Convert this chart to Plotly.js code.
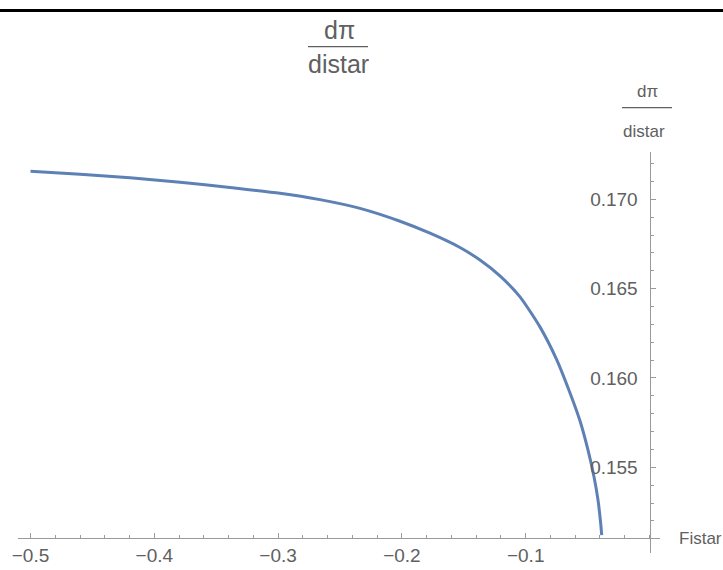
<!DOCTYPE html>
<html>
<head>
<meta charset="utf-8">
<script src="https://cdn.plot.ly/plotly-3.0.1.min.js"></script>
<style>html,body{margin:0;padding:0;background:#fff;}#chart{width:723px;height:570px;}</style>
</head>
<body>
<div id="chart"></div>
<script>
// ---- data ----
const fistar = [-0.5, -0.4600, -0.4196, -0.3792, -0.3389, -0.2985, -0.2662, -0.2338, -0.2015, -0.1773, -0.1531, -0.1369, -0.1208, -0.1046, -0.0885, -0.0750, -0.0642, -0.0561, -0.0497, -0.0448, -0.0416, -0.0397, -0.0386];
const dpiDistar = [0.17157, 0.17140, 0.17120, 0.17096, 0.17066, 0.17034, 0.16998, 0.16949, 0.16877, 0.16810, 0.16730, 0.16660, 0.16571, 0.16454, 0.16286, 0.16103, 0.15916, 0.15759, 0.15597, 0.15446, 0.15317, 0.15205, 0.15121];
const xTickVals = [-0.5, -0.4, -0.3, -0.2, -0.1];
const xTickText = ['\u22120.5', '\u22120.4', '\u22120.3', '\u22120.2', '\u22120.1'];
const yTickVals = [0.155, 0.160, 0.165, 0.170];
const yTickText = ['0.155', '0.160', '0.165', '0.170'];
const labelNum = 'd\u03c0';
const labelDen = 'distar';
const xLabel = 'Fistar';

// ---- layout geometry (pixels) ----
const W = 723, H = 570;
const L = 18, R = 63, T = 152, B = 17;
const pw = W - L - R, ph = H - T - B;
const px = x => (x - L) / pw;
const py = y => 1 - (y - T) / ph;

const xRange = [-0.5101, 0.00848];
const yRange = [0.150204, 0.172647];
const axisGrey = '#9a9a9a';
const textGrey = '#606060';
const sans = '"Liberation Sans", Arial, sans-serif';

const trace = {
  x: fistar, y: dpiDistar, type: 'scatter', mode: 'lines',
  line: {color: '#5e81b5', width: 3, shape: 'spline', smoothing: 0.6},
  hoverinfo: 'skip'
};

function ann(text, x, y, size) {
  return {text: text, xref: 'paper', yref: 'paper', x: px(x), y: py(y),
    xanchor: 'center', yanchor: 'middle', showarrow: false,
    font: {family: sans, size: size, color: textGrey}};
}

const layout = {
  width: W, height: H,
  margin: {l: L, r: R, t: T, b: B, pad: 0},
  paper_bgcolor: '#fff', plot_bgcolor: '#fff',
  showlegend: false,
  xaxis: {
    range: xRange, anchor: 'free', position: py(537.7),
    showline: true, linecolor: axisGrey, linewidth: 1,
    showgrid: false, zeroline: false,
    tickmode: 'array', tickvals: xTickVals, ticktext: xTickText,
    ticks: 'inside', ticklen: 5, tickcolor: axisGrey, tickwidth: 1,
    minor: {tickmode: 'linear', tick0: 0, dtick: 0.02, ticks: 'inside', ticklen: 3, tickcolor: axisGrey, showgrid: false},
    tickfont: {family: sans, size: 19, color: textGrey},
    ticklabelstandoff: 0
  },
  yaxis: {
    range: yRange, anchor: 'free', position: px(649.5),
    showline: true, linecolor: axisGrey, linewidth: 1,
    showgrid: false, zeroline: false,
    tickmode: 'array', tickvals: yTickVals, ticktext: yTickText,
    ticks: 'inside', ticklen: 5, tickcolor: axisGrey, tickwidth: 1,
    minor: {tickmode: 'linear', tick0: 0, dtick: 0.001, ticks: 'inside', ticklen: 3, tickcolor: axisGrey, showgrid: false},
    tickfont: {family: sans, size: 19, color: textGrey},
    ticklabelstandoff: 8
  },
  annotations: [
    ann(labelNum, 339, 30, 25),
    ann(labelDen, 338, 64, 25),
    ann(labelNum, 647, 91, 17),
    ann(labelDen, 644, 131, 17),
    {text: xLabel, xref: 'paper', yref: 'paper', x: px(677), y: py(538), xanchor: 'left', yanchor: 'middle',
     showarrow: false, font: {family: sans, size: 17, color: textGrey}}
  ],
  shapes: [
    {type: 'line', xref: 'paper', yref: 'paper', x0: px(0), x1: px(W), y0: py(10.5), y1: py(10.5), line: {color: '#000', width: 3}},
    {type: 'line', xref: 'paper', yref: 'paper', x0: px(308), x1: px(368), y0: py(46.7), y1: py(46.7), line: {color: textGrey, width: 1.3}},
    {type: 'line', xref: 'paper', yref: 'paper', x0: px(622), x1: px(672), y0: py(107.7), y1: py(107.7), line: {color: textGrey, width: 1.3}}
  ]
};

Plotly.newPlot('chart', [trace], layout, {displayModeBar: false, staticPlot: true});
</script>
</body>
</html>
